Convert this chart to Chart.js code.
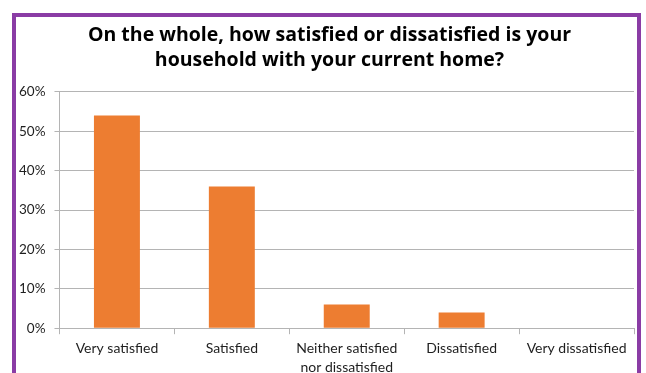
<!DOCTYPE html>
<html>
<head>
<meta charset="utf-8">
<script src="https://cdn.jsdelivr.net/npm/chart.js@4.4.1/dist/chart.umd.min.js"></script>
<style>
  html, body { margin: 0; padding: 0; background: #ffffff; overflow: hidden; }
  #wrap { position: relative; width: 646px; height: 373px; overflow: hidden; }
  #frame { position: absolute; left: 12px; top: 13px; width: 629px; height: 420px; box-sizing: border-box; border: 4px solid #8a3ca5; pointer-events: none; }
  canvas { position: absolute; left: 0; top: 0; }
</style>
</head>
<body>
<div id="wrap">
  <canvas id="c" width="646" height="382"></canvas>
  <div id="frame"></div>
</div>
<script>
const titleLines = ['On the whole, how satisfied or dissatisfied is your', 'household with your current home?'];
const categories = ['Very satisfied', 'Satisfied', ['Neither satisfied', 'nor dissatisfied'], 'Dissatisfied', 'Very dissatisfied'];
const percentValues = [54, 36, 6, 4, 0];
const yTickMax = 60;
const yTickStep = 10;

const FONT = 'Lato, "Open Sans", sans-serif';
const TITLE_FONT = '"Open Sans", Lato, sans-serif';
const gridGray = '#b4b4b4';

const shiftTitle = {
  id: 'shiftTitle',
  afterLayout(chart) {
    if (chart.titleBlock) {
      chart.titleBlock.left += 7.5;
      chart.titleBlock.right += 7.5;
    }
  }
};

new Chart(document.getElementById('c'), {
  type: 'bar',
  data: {
    labels: categories,
    datasets: [{
      data: percentValues,
      backgroundColor: '#ed7d31',
      borderWidth: 0,
      barPercentage: 0.4,
      categoryPercentage: 1.0
    }]
  },
  plugins: [shiftTitle],
  options: {
    responsive: false,
    animation: false,
    layout: { padding: { left: 10, right: 12, top: 22.5, bottom: 0 } },
    plugins: {
      legend: { display: false },
      tooltip: { enabled: false },
      title: {
        display: true,
        text: titleLines,
        color: '#000000',
        font: { family: TITLE_FONT, size: 19.5, weight: 'bold', lineHeight: 1.28 },
        padding: { top: 0, bottom: 19.5 }
      }
    },
    scales: {
      x: {
        grid: { display: true, drawOnChartArea: false, drawTicks: true, tickLength: 6, color: gridGray, offset: true },
        border: { display: true, color: gridGray, width: 1 },
        ticks: { color: '#1e1e1e', font: { family: FONT, size: 14, lineHeight: 1.35 }, padding: 5, maxRotation: 0, autoSkip: false }
      },
      y: {
        min: 0,
        max: yTickMax,
        grid: { display: true, drawTicks: true, tickLength: 5, color: gridGray, lineWidth: 1 },
        border: { display: true, color: gridGray, width: 1 },
        ticks: {
          stepSize: yTickStep,
          color: '#1e1e1e',
          font: { family: FONT, size: 13.5 },
          padding: 9,
          callback: v => v + '%'
        }
      }
    }
  }
});
</script>
</body>
</html>
